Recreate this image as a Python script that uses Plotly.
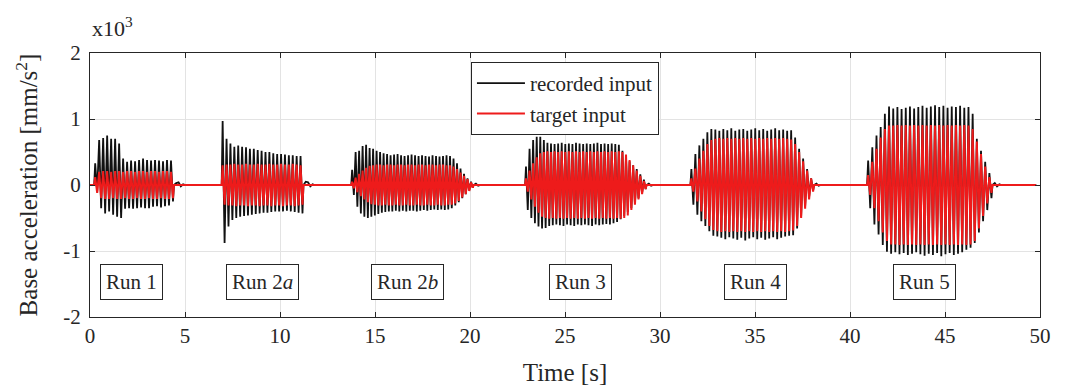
import plotly.graph_objects as go

# ---------------- data (acceleration in 10^3 mm/s^2) ----------------
TIME_START = 0.0
TIME_END = 49.8

RUN_NAMES = ["Run 1", "Run 2<i>a</i>", "Run 2<i>b</i>", "Run 3", "Run 4", "Run 5"]
RUN_LABEL_T = [2.2, 9.1, 16.7, 25.8, 35.0, 43.9]
RUN_LABEL_Y = -1.47

RUN_START = [0.22, 6.93, 13.75, 22.9, 31.6, 40.9]
RUN_PERIOD = [0.21, 0.205, 0.184, 0.188, 0.21, 0.22]

# recorded input: positive and negative peak of each cycle
REC_UP_1 = [0.33, 0.68, 0.71, 0.75, 0.70, 0.70, 0.63, 0.40, 0.35, 0.37,
            0.36, 0.38, 0.40, 0.38, 0.37, 0.38, 0.37, 0.36, 0.38, 0.37]
REC_LO_1 = [-0.10, -0.35, -0.43, -0.40, -0.45, -0.48, -0.50, -0.36, -0.35, -0.36,
            -0.35, -0.34, -0.35, -0.35, -0.33, -0.32, -0.34, -0.32, -0.31, -0.25]
REC_TAIL_1 = [0.03, 0.04, -0.02, 0.01]

REC_UP_2A = [0.97, 0.70, 0.63, 0.58, 0.60, 0.58, 0.57, 0.55, 0.55, 0.53,
             0.52, 0.50, 0.50, 0.48, 0.47, 0.47, 0.46, 0.45, 0.45, 0.44, 0.44]
REC_LO_2A = [-0.88, -0.63, -0.53, -0.50, -0.48, -0.47, -0.46, -0.45, -0.44, -0.43,
             -0.42, -0.42, -0.41, -0.40, -0.40, -0.40, -0.39, -0.40, -0.41, -0.42, -0.43]
REC_TAIL_2A = [0.05, 0.04, -0.02, 0.01]

REC_UP_2B = [0.23, 0.50, 0.52, 0.59, 0.61, 0.56, 0.55, 0.52, 0.50, 0.48,
             0.47, 0.45, 0.46, 0.47, 0.45, 0.44, 0.45, 0.46, 0.45, 0.44,
             0.45, 0.44, 0.43, 0.45, 0.44, 0.43, 0.44, 0.45, 0.44, 0.40,
             0.33, 0.25, 0.17, 0.10, 0.05]
REC_LO_2B = [-0.15, -0.33, -0.43, -0.48, -0.50, -0.48, -0.46, -0.44, -0.42, -0.41,
             -0.40, -0.40, -0.39, -0.40, -0.39, -0.40, -0.39, -0.39, -0.40, -0.39,
             -0.38, -0.39, -0.38, -0.37, -0.38, -0.37, -0.38, -0.37, -0.35, -0.31,
             -0.26, -0.20, -0.14, -0.08, -0.04]
REC_TAIL_2B = [0.02, -0.01]

REC_UP_3 = [0.28, 0.55, 0.68, 0.73, 0.73, 0.68, 0.64, 0.63, 0.62, 0.63,
            0.64, 0.62, 0.63, 0.62, 0.64, 0.63, 0.62, 0.63, 0.62, 0.63,
            0.64, 0.62, 0.63, 0.62, 0.63, 0.62, 0.61, 0.52, 0.43, 0.36,
            0.30, 0.24, 0.16, 0.08]
REC_LO_3 = [-0.38, -0.50, -0.58, -0.63, -0.66, -0.65, -0.62, -0.61, -0.60, -0.61,
            -0.62, -0.60, -0.61, -0.62, -0.60, -0.61, -0.60, -0.61, -0.62, -0.60,
            -0.61, -0.60, -0.59, -0.60, -0.58, -0.56, -0.52, -0.47, -0.41, -0.35,
            -0.28, -0.20, -0.12, -0.06]
REC_TAIL_3 = [0.02, -0.01]

REC_UP_4 = [0.24, 0.47, 0.60, 0.70, 0.80, 0.85, 0.84, 0.82, 0.85, 0.83,
            0.86, 0.82, 0.84, 0.85, 0.82, 0.84, 0.86, 0.83, 0.85, 0.82,
            0.84, 0.86, 0.83, 0.84, 0.82, 0.83, 0.72, 0.55, 0.40, 0.24, 0.10]
REC_LO_4 = [-0.30, -0.45, -0.55, -0.62, -0.70, -0.77, -0.78, -0.80, -0.82, -0.79,
            -0.81, -0.83, -0.80, -0.84, -0.81, -0.79, -0.82, -0.80, -0.83, -0.81,
            -0.79, -0.82, -0.80, -0.78, -0.77, -0.76, -0.66, -0.48, -0.32, -0.18, -0.08]
REC_TAIL_4 = [0.02, -0.01]

REC_UP_5 = [0.37, 0.57, 0.75, 0.88, 1.08, 1.19, 1.16, 1.18, 1.15, 1.17,
            1.19, 1.16, 1.18, 1.20, 1.17, 1.19, 1.21, 1.18, 1.20, 1.17,
            1.19, 1.18, 1.20, 1.17, 1.18, 1.08, 0.70, 0.52, 0.35, 0.18]
REC_LO_5 = [-0.35, -0.60, -0.75, -0.91, -1.01, -1.04, -1.02, -1.05, -1.03, -1.06,
            -1.04, -1.02, -1.05, -1.07, -1.04, -1.06, -1.03, -1.08, -1.05, -1.03,
            -1.06, -1.04, -1.02, -0.98, -0.95, -0.88, -0.72, -0.55, -0.38, -0.20]
REC_TAIL_5 = [0.03, -0.02, 0.01]

# target input: amplitude of each cycle
TGT_1 = [0.12, 0.20, 0.21, 0.21, 0.20, 0.21, 0.21, 0.20, 0.21, 0.21,
         0.20, 0.21, 0.21, 0.20, 0.21, 0.21, 0.20, 0.21, 0.21, 0.20]
TGT_2A = [0.30, 0.31, 0.31, 0.32, 0.31, 0.31, 0.32, 0.31, 0.31, 0.32,
          0.31, 0.31, 0.32, 0.31, 0.31, 0.32, 0.31, 0.31, 0.32, 0.31, 0.30]
TGT_2B = [0.05, 0.11, 0.17, 0.22, 0.26, 0.29, 0.30, 0.31, 0.31, 0.30,
          0.31, 0.31, 0.30, 0.31, 0.31, 0.30, 0.31, 0.31, 0.30, 0.31,
          0.31, 0.30, 0.31, 0.31, 0.30, 0.31, 0.31, 0.30, 0.30, 0.28,
          0.24, 0.19, 0.14, 0.09, 0.04]
TGT_3 = [0.10, 0.22, 0.33, 0.42, 0.48, 0.50, 0.51, 0.50, 0.51, 0.50,
         0.51, 0.50, 0.51, 0.50, 0.51, 0.50, 0.51, 0.50, 0.51, 0.50,
         0.51, 0.50, 0.51, 0.50, 0.51, 0.50, 0.51, 0.50, 0.46, 0.38,
         0.30, 0.22, 0.14, 0.06]
TGT_4 = [0.10, 0.25, 0.40, 0.52, 0.62, 0.68, 0.70, 0.71, 0.70, 0.71,
         0.70, 0.71, 0.70, 0.71, 0.70, 0.71, 0.70, 0.71, 0.70, 0.71,
         0.70, 0.71, 0.70, 0.71, 0.70, 0.69, 0.62, 0.50, 0.36, 0.22, 0.10]
TGT_5 = [0.15, 0.35, 0.55, 0.72, 0.85, 0.90, 0.90, 0.91, 0.90, 0.91,
         0.90, 0.91, 0.90, 0.91, 0.90, 0.91, 0.90, 0.91, 0.90, 0.91,
         0.90, 0.91, 0.90, 0.91, 0.90, 0.85, 0.66, 0.47, 0.28, 0.12]

REC_UP = [REC_UP_1, REC_UP_2A, REC_UP_2B, REC_UP_3, REC_UP_4, REC_UP_5]
REC_LO = [REC_LO_1, REC_LO_2A, REC_LO_2B, REC_LO_3, REC_LO_4, REC_LO_5]
REC_TAIL = [REC_TAIL_1, REC_TAIL_2A, REC_TAIL_2B, REC_TAIL_3, REC_TAIL_4, REC_TAIL_5]
TGT = [TGT_1, TGT_2A, TGT_2B, TGT_3, TGT_4, TGT_5]

TAIL_STEP = 0.12


def run_points(t0, period, ups, los, tail):
    t, y = [t0], [0.0]
    for k, (u, l) in enumerate(zip(ups, los)):
        t += [t0 + (k + 0.25) * period, t0 + (k + 0.75) * period]
        y += [u, l]
    tend = t0 + len(ups) * period
    t.append(tend)
    y.append(0.0)
    for j, v in enumerate(tail):
        t.append(tend + (j + 1) * TAIL_STEP)
        y.append(v)
    if tail:
        t.append(tend + (len(tail) + 1) * TAIL_STEP)
        y.append(0.0)
    return t, y


rec_t, rec_y = [TIME_START], [0.0]
tgt_t, tgt_y = [TIME_START], [0.0]
for i in range(len(RUN_START)):
    a, b = run_points(RUN_START[i], RUN_PERIOD[i], REC_UP[i], REC_LO[i], REC_TAIL[i])
    rec_t += a
    rec_y += b
    a, b = run_points(RUN_START[i], RUN_PERIOD[i], TGT[i], [-v for v in TGT[i]], [])
    tgt_t += a
    tgt_y += b
rec_t.append(TIME_END)
rec_y.append(0.0)
tgt_t.append(TIME_END)
tgt_y.append(0.0)

X_TICKS = [0, 5, 10, 15, 20, 25, 30, 35, 40, 45, 50]
Y_TICKS = [-2, -1, 0, 1, 2]
Y_TICK_TEXT = ["-2", "-1", "0", "1", "2"]

# ---------------- figure ----------------
FONT = "Liberation Serif, Times New Roman, serif"
AX_COL = "#262626"

fig = go.Figure()
fig.add_trace(go.Scatter(x=rec_t, y=rec_y, mode="lines", name="recorded input",
                         line=dict(color="#111111", width=1.8)))
fig.add_trace(go.Scatter(x=tgt_t, y=tgt_y, mode="lines", name="target input",
                         line=dict(color="#ee1b1b", width=2.0)))

common_axis = dict(
    showline=True, linecolor=AX_COL, linewidth=1, mirror="ticks",
    ticks="inside", ticklen=5, tickcolor=AX_COL,
    showgrid=True, gridcolor="#e3e3e3", gridwidth=1, zeroline=False,
    tickfont=dict(family=FONT, size=21, color=AX_COL),
    automargin=False,
)

fig.update_layout(
    width=1068, height=392,
    margin=dict(l=90, r=28, t=53, b=75),
    paper_bgcolor="white", plot_bgcolor="white",
    font=dict(family=FONT, color=AX_COL),
    xaxis=dict(range=[0, 50], tickvals=X_TICKS,
               title=dict(text="Time [s]", font=dict(family=FONT, size=25, color=AX_COL), standoff=16),
               **common_axis),
    yaxis=dict(range=[-2, 2], tickvals=Y_TICKS, ticktext=Y_TICK_TEXT, ticklabelstandoff=4,
               title=dict(text="Base acceleration [mm/s<sup>2</sup>]",
                          font=dict(family=FONT, size=25, color=AX_COL), standoff=18),
               **common_axis),
    legend=dict(x=0.401, y=0.966, xanchor="left", yanchor="top",
                bgcolor="white", bordercolor=AX_COL, borderwidth=1,
                font=dict(family=FONT, size=21, color=AX_COL),
                tracegroupgap=0, itemwidth=48),
    showlegend=True,
)

for name, tx in zip(RUN_NAMES, RUN_LABEL_T):
    fig.add_annotation(x=tx, y=RUN_LABEL_Y, xref="x", yref="y", text=name,
                       showarrow=False, font=dict(family=FONT, size=21, color=AX_COL),
                       bgcolor="white", bordercolor=AX_COL, borderwidth=1, borderpad=5)

fig.add_annotation(x=0, y=1.0, xref="paper", yref="paper", xanchor="left", yanchor="bottom",
                   yshift=10, text="x10<sup>3</sup>", showarrow=False,
                   font=dict(family=FONT, size=22, color=AX_COL))

fig.write_html("out.html", config={"displayModeBar": False},
               post_script="document.body.style.margin='0';")
